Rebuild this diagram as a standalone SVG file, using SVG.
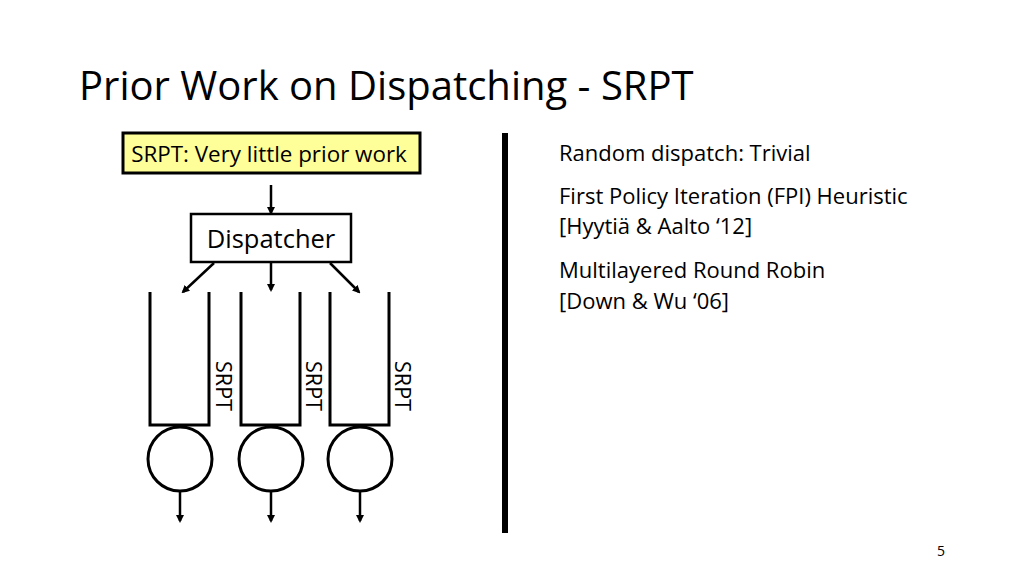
<svg xmlns="http://www.w3.org/2000/svg" width="1024" height="576" viewBox="0 0 1024 576">
<style>
text{font-family:"Open Sans","Liberation Sans",sans-serif;fill:#000}
.l{stroke:#000;stroke-width:3;fill:none}
.a{stroke:#000;stroke-width:2.5;fill:none;marker-end:url(#ah)}
.r{font-size:22px}
.q{font-size:21.5px}
</style>
<defs><marker id="ah" markerWidth="8" markerHeight="8" refX="6" refY="4" orient="auto" markerUnits="userSpaceOnUse"><path d="M0,0L8,4L0,8z" fill="#000"/></marker></defs>
<rect width="1024" height="576" fill="#fff"/>
<text x="79" y="100" font-size="40" fill="#222">Prior Work on Dispatching - SRPT</text>
<g id="srpt-box"><rect x="123" y="133" width="297" height="40" fill="#ffff99" stroke="#000" stroke-width="3"/><text x="269" y="162" font-size="22.4" text-anchor="middle">SRPT: Very little prior work</text></g>
<g id="dispatcher"><rect x="191" y="214" width="160" height="48" fill="#fff" stroke="#000" stroke-width="2.5"/><text x="271" y="248" font-size="25.5" text-anchor="middle">Dispatcher</text></g>
<g id="q1"><path class="l" d="M150,292V425H209V292"/><text class="q" transform="translate(216,386) rotate(90)" text-anchor="middle">SRPT</text></g>
<g id="q2"><path class="l" d="M241,292V425H300V292"/><text class="q" transform="translate(306,386) rotate(90)" text-anchor="middle">SRPT</text></g>
<g id="q3"><path class="l" d="M330,292V425H389V292"/><text class="q" transform="translate(395,386) rotate(90)" text-anchor="middle">SRPT</text></g>
<g id="s1"><circle cx="180" cy="459" r="32" fill="none" stroke="#000" stroke-width="3"/></g>
<g id="s2"><circle cx="271" cy="459" r="32" fill="none" stroke="#000" stroke-width="3"/></g>
<g id="s3"><circle cx="360" cy="459" r="32" fill="none" stroke="#000" stroke-width="3"/></g>
<g id="connectors">
<line class="a" x1="271" y1="185" x2="271" y2="213"/>
<line class="a" x1="214" y1="263" x2="183" y2="292"/>
<line class="a" x1="271" y1="263" x2="271" y2="290"/>
<line class="a" x1="330" y1="263" x2="359" y2="292"/>
<line class="a" x1="180" y1="491" x2="180" y2="521"/>
<line class="a" x1="271" y1="491" x2="271" y2="521"/>
<line class="a" x1="360" y1="491" x2="360" y2="521"/>
</g>
<rect x="502" y="133" width="6" height="400" fill="#000"/>
<g class="r">
<text x="559" y="161">Random dispatch: Trivial</text>
<text x="559" y="204">First Policy Iteration (FPI) Heuristic</text>
<text x="559" y="234">[Hyytiä &amp; Aalto ‘12]</text>
<text x="559" y="278">Multilayered Round Robin</text>
<text x="559" y="309">[Down &amp; Wu ‘06]</text>
</g>
<text x="937" y="556" font-size="14">5</text>
</svg>
